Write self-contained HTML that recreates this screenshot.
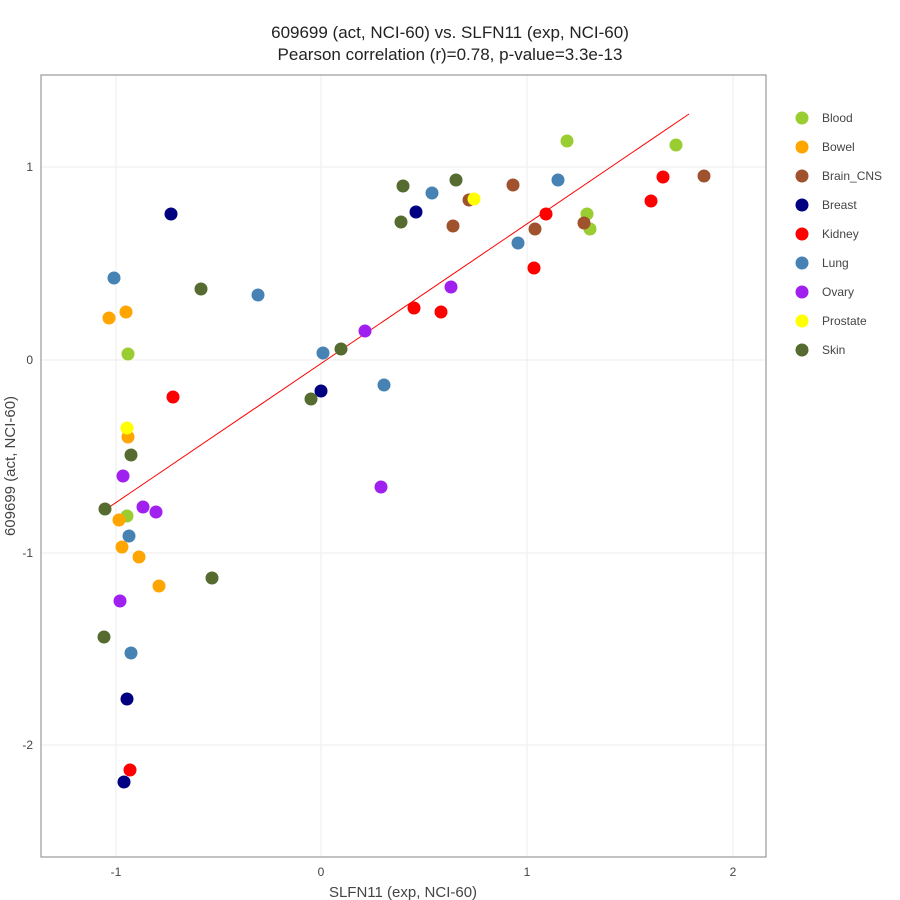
<!DOCTYPE html>
<html><head><meta charset="utf-8"><style>body{margin:0;background:#fff}svg{display:block}text{font-family:"Liberation Sans",sans-serif}</style></head>
<body>
<svg width="900" height="900" viewBox="0 0 900 900" xmlns="http://www.w3.org/2000/svg">
<rect width="900" height="900" fill="#fff"/>
<g stroke="#eeeeee" stroke-width="1">
<line x1="116" y1="75" x2="116" y2="857"/><line x1="321" y1="75" x2="321" y2="857"/><line x1="527" y1="75" x2="527" y2="857"/><line x1="733" y1="75" x2="733" y2="857"/>
<line x1="41" y1="167" x2="766" y2="167"/><line x1="41" y1="360" x2="766" y2="360"/><line x1="41" y1="553" x2="766" y2="553"/><line x1="41" y1="745" x2="766" y2="745"/>
</g>
<rect x="41" y="75" width="725" height="782" fill="none" stroke="#999" stroke-width="1.2"/>
<g font-size="12" fill="#444" text-anchor="middle">
<text x="116" y="876">-1</text><text x="321" y="876">0</text><text x="527" y="876">1</text><text x="733" y="876">2</text>
</g>
<g font-size="12" fill="#444" text-anchor="end">
<text x="33" y="171">1</text><text x="33" y="364">0</text><text x="33" y="557">-1</text><text x="33" y="749">-2</text>
</g>
<text x="403" y="897" font-size="15" fill="#444" text-anchor="middle">SLFN11 (exp, NCI-60)</text>
<text transform="translate(15,466) rotate(-90)" font-size="15" fill="#444" text-anchor="middle">609699 (act, NCI-60)</text>
<text x="450" y="38" font-size="17" fill="#222" text-anchor="middle">609699 (act, NCI-60) vs. SLFN11 (exp, NCI-60)</text>
<text x="450" y="60" font-size="17" fill="#222" text-anchor="middle">Pearson correlation (r)=0.78, p-value=3.3e-13</text>
<line x1="105" y1="510" x2="689" y2="114" stroke="#ff0000" stroke-width="1"/>
<g r="6.5">
<g fill="#9acd32"><circle cx="567" cy="141" r="6.5"/><circle cx="676" cy="145" r="6.5"/><circle cx="587" cy="214" r="6.5"/><circle cx="590" cy="229" r="6.5"/><circle cx="128" cy="354" r="6.5"/><circle cx="127" cy="516" r="6.5"/></g>
<g fill="#ffa500"><circle cx="109" cy="318" r="6.5"/><circle cx="126" cy="312" r="6.5"/><circle cx="128" cy="437" r="6.5"/><circle cx="119" cy="520" r="6.5"/><circle cx="122" cy="547" r="6.5"/><circle cx="139" cy="557" r="6.5"/><circle cx="159" cy="586" r="6.5"/></g>
<g fill="#a0522d"><circle cx="513" cy="185" r="6.5"/><circle cx="469" cy="200" r="6.5"/><circle cx="453" cy="226" r="6.5"/><circle cx="535" cy="229" r="6.5"/><circle cx="584" cy="223" r="6.5"/><circle cx="704" cy="176" r="6.5"/></g>
<g fill="#000080"><circle cx="171" cy="214" r="6.5"/><circle cx="416" cy="212" r="6.5"/><circle cx="321" cy="391" r="6.5"/><circle cx="127" cy="699" r="6.5"/><circle cx="124" cy="782" r="6.5"/></g>
<g fill="#ff0000"><circle cx="663" cy="177" r="6.5"/><circle cx="651" cy="201" r="6.5"/><circle cx="546" cy="214" r="6.5"/><circle cx="534" cy="268" r="6.5"/><circle cx="414" cy="308" r="6.5"/><circle cx="441" cy="312" r="6.5"/><circle cx="173" cy="397" r="6.5"/><circle cx="130" cy="770" r="6.5"/></g>
<g fill="#4682b4"><circle cx="432" cy="193" r="6.5"/><circle cx="558" cy="180" r="6.5"/><circle cx="518" cy="243" r="6.5"/><circle cx="114" cy="278" r="6.5"/><circle cx="258" cy="295" r="6.5"/><circle cx="323" cy="353" r="6.5"/><circle cx="384" cy="385" r="6.5"/><circle cx="129" cy="536" r="6.5"/><circle cx="131" cy="653" r="6.5"/></g>
<g fill="#a020f0"><circle cx="451" cy="287" r="6.5"/><circle cx="365" cy="331" r="6.5"/><circle cx="381" cy="487" r="6.5"/><circle cx="123" cy="476" r="6.5"/><circle cx="143" cy="507" r="6.5"/><circle cx="156" cy="512" r="6.5"/><circle cx="120" cy="601" r="6.5"/></g>
<g fill="#ffff00"><circle cx="474" cy="199" r="6.5"/><circle cx="127" cy="428" r="6.5"/></g>
<g fill="#556b2f"><circle cx="403" cy="186" r="6.5"/><circle cx="456" cy="180" r="6.5"/><circle cx="401" cy="222" r="6.5"/><circle cx="201" cy="289" r="6.5"/><circle cx="341" cy="349" r="6.5"/><circle cx="311" cy="399" r="6.5"/><circle cx="131" cy="455" r="6.5"/><circle cx="105" cy="509" r="6.5"/><circle cx="212" cy="578" r="6.5"/><circle cx="104" cy="637" r="6.5"/></g>
</g>
<g font-size="12" fill="#444">
<circle cx="802" cy="118" r="6.5" fill="#9acd32"/><text x="822" y="122">Blood</text>
<circle cx="802" cy="147" r="6.5" fill="#ffa500"/><text x="822" y="151">Bowel</text>
<circle cx="802" cy="176" r="6.5" fill="#a0522d"/><text x="822" y="180">Brain_CNS</text>
<circle cx="802" cy="205" r="6.5" fill="#000080"/><text x="822" y="209">Breast</text>
<circle cx="802" cy="234" r="6.5" fill="#ff0000"/><text x="822" y="238">Kidney</text>
<circle cx="802" cy="263" r="6.5" fill="#4682b4"/><text x="822" y="267">Lung</text>
<circle cx="802" cy="292" r="6.5" fill="#a020f0"/><text x="822" y="296">Ovary</text>
<circle cx="802" cy="321" r="6.5" fill="#ffff00"/><text x="822" y="325">Prostate</text>
<circle cx="802" cy="350" r="6.5" fill="#556b2f"/><text x="822" y="354">Skin</text>
</g>
</svg>
</body></html>
